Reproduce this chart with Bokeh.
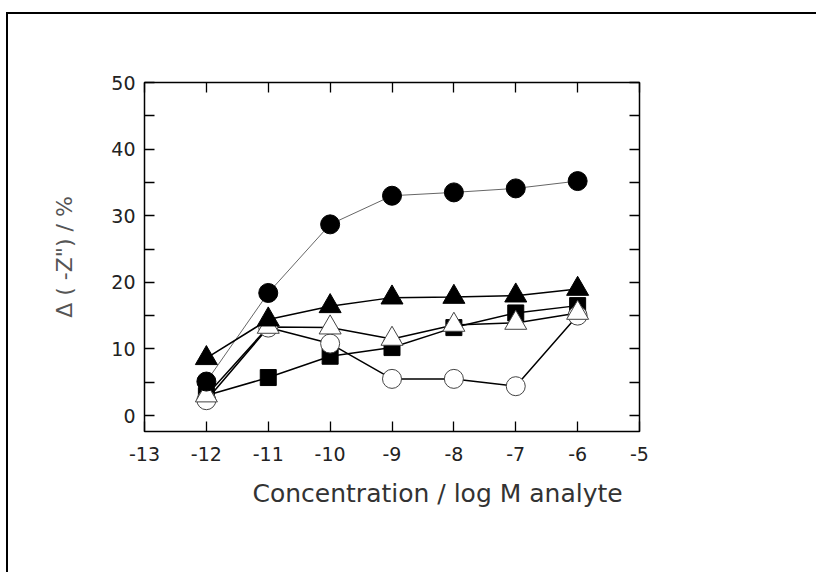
from bokeh.plotting import figure
from bokeh.models import FixedTicker, LinearAxis, Range1d, Title
from bokeh.embed import file_html
from bokeh.resources import INLINE

# ---- data ----
conc = [-12, -11, -10, -9, -8, -7, -6]
filled_circle = [5.1, 18.4, 28.7, 33.0, 33.5, 34.1, 35.2]
filled_triangle = [8.6, 14.4, 16.4, 17.7, 17.8, 18.0, 19.0]
filled_square = [3.0, 5.7, 8.9, 10.2, 13.2, 15.4, 16.5]
open_triangle = [3.0, 13.3, 13.2, 11.5, 13.6, 13.9, 15.4]
open_circle = [2.3, 13.2, 10.8, 5.5, 5.5, 4.4, 15.0]

x_ticks = [-13, -12, -11, -10, -9, -8, -7, -6, -5]
x_tick_labels = ["-13", "-12", "-11", "-10", "-9", "-8", "-7", "-6", "-5"]
y_ticks = [0, 10, 20, 30, 40, 50]
y_minor = [5, 15, 25, 35, 45]
x_title = "Concentration / log M analyte"
y_title = "\u0394 ( -Z\") / %"

FONT = "DejaVu Sans"

p = figure(width=810, height=560, output_backend="svg", toolbar_location=None,
           x_range=Range1d(-13, -5), y_range=Range1d(-2.4, 50),
           x_axis_location=None, y_axis_location=None,
           min_border_left=136, min_border_right=179,
           min_border_top=68, min_border_bottom=143)
p.styles = {"border-top": "2px solid black", "border-left": "2px solid black",
            "margin-top": "12px", "margin-left": "6px"}
p.grid.visible = False
p.outline_line_color = "black"
p.outline_line_width = 1.5
p.background_fill_color = "white"
p.border_fill_color = "white"

def make_axis(kind, labels):
    if kind == "x":
        tk = FixedTicker(ticks=x_ticks, minor_ticks=[])
    else:
        tk = FixedTicker(ticks=y_ticks, minor_ticks=y_minor)
    ax = LinearAxis(ticker=tk)
    ax.axis_line_color = None
    ax.major_tick_in = 10
    ax.major_tick_out = 0
    ax.minor_tick_in = 10
    ax.minor_tick_out = 0
    ax.major_tick_line_color = "black"
    ax.minor_tick_line_color = "black"
    ax.major_tick_line_width = 1.3
    ax.minor_tick_line_width = 1.3
    ax.major_label_text_font = FONT
    ax.major_label_text_font_size = "19px"
    ax.major_label_text_color = "#222222"
    ax.axis_label_text_font = FONT
    ax.axis_label_text_font_style = "normal"
    if kind == "x":
        ax.major_label_overrides = {t: s for t, s in zip(x_ticks, x_tick_labels)}
    if not labels:
        ax.major_label_text_alpha = 0
        ax.major_label_text_font_size = "1px"
        ax.major_label_standoff = 0
    return ax

xb = make_axis("x", True)
xb.major_label_standoff = 15
p.add_layout(xb, "below")

# x-axis title (sits right of the frame centre in the original)
p.add_layout(Title(text=x_title, align="left", offset=108, standoff=27,
                   text_font=FONT, text_font_size="25px",
                   text_font_style="normal", text_color="#333333"), "below")

yl = make_axis("y", True)
yl.major_label_standoff = 9
yl.axis_label = y_title
yl.axis_label_text_font_size = "22px"
yl.axis_label_text_color = "#555555"
yl.axis_label_standoff = 31
p.add_layout(yl, "left")

p.add_layout(make_axis("x", False), "above")
p.add_layout(make_axis("y", False), "right")

# lines
p.line(conc, filled_circle, line_color="#666666", line_width=1)
for ys in (filled_triangle, filled_square, open_triangle, open_circle):
    p.line(conc, ys, line_color="black", line_width=1.5)

# markers
p.scatter(conc, filled_square, marker="square", size=16,
          fill_color="black", line_color="black")
p.scatter(conc, open_circle, marker="circle", size=19,
          fill_color="white", line_color="#444444", line_width=1)
p.scatter(conc, open_triangle, marker="triangle", size=22,
          fill_color="white", line_color="#444444", line_width=1)
p.scatter(conc, filled_circle, marker="circle", size=19,
          fill_color="black", line_color="black")
p.scatter(conc, filled_triangle, marker="triangle", size=22,
          fill_color="black", line_color="black")

open("out.html", "w").write(file_html(p, INLINE))
